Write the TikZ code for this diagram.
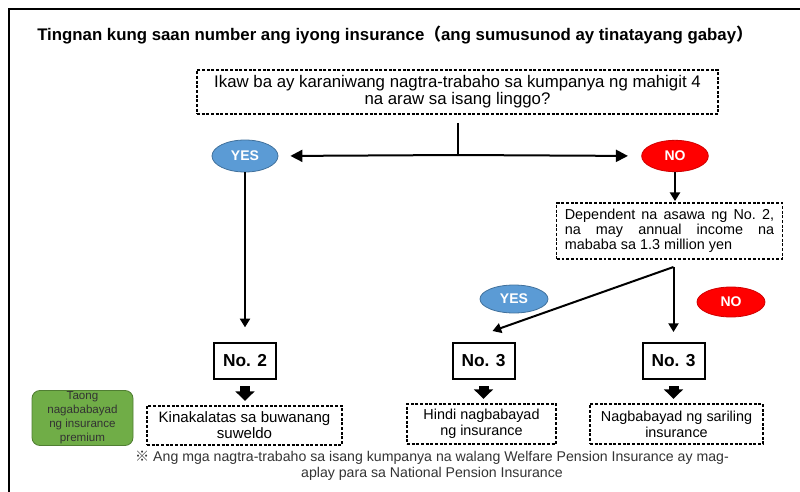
\documentclass[tikz,border=0pt]{standalone}
\usepackage{fontspec}
\setmainfont{Liberation Sans}
\newfontfamily\cjk{Noto Sans CJK SC}
\usetikzlibrary{shapes.geometric,arrows.meta}
\definecolor{yesblue}{HTML}{5B9BD5}
\definecolor{yesedge}{HTML}{41719C}
\definecolor{nored}{HTML}{FF0000}
\definecolor{noedge}{HTML}{D00000}
\definecolor{paygreen}{HTML}{70AD47}
\definecolor{payedge}{HTML}{507E32}
\definecolor{notegray}{HTML}{333333}
\begin{document}
\begin{tikzpicture}[x=0.75pt, y=-0.75pt,
            dashbox/.style={rectangle, draw, dashed, dash pattern=on 2.2pt off 1.3pt, line width=0.8pt, align=center, inner sep=2pt, font=\fontsize{10.8}{12}\selectfont},
            numbox/.style={rectangle, draw, line width=1.5pt, minimum width=46.5pt, minimum height=27pt, font=\fontsize{13}{15}\selectfont\bfseries},
            yes/.style={ellipse, fill=yesblue, draw=yesedge, line width=0.6pt, text=white, inner sep=0pt, font=\fontsize{10.5}{12}\selectfont\bfseries},
            no/.style={ellipse, fill=nored, draw=noedge, line width=0.6pt, text=white, inner sep=0pt, font=\fontsize{10.5}{12}\selectfont\bfseries},
            paybox/.style={rectangle, rounded corners=6pt, fill=paygreen, draw=payedge, line width=0.6pt, align=center, text=notegray, minimum width=75.75pt, minimum height=40.5pt, inner sep=1pt, font=\fontsize{8.7}{10.5}\selectfont},
            flow/.style={line width=1.5pt, -{Triangle[length=6.5pt, width=7.5pt]}},
            splitflow/.style={line width=1.5pt, -{Triangle[length=9pt, width=9pt]}},
            blockarrow/.style={line width=7.5pt, -{Triangle[length=7pt, width=14pt]}, shorten <=4.5pt, shorten >=3.5pt},
        ]
            \useasboundingbox (0,0) rectangle (800,492);
            \draw[line width=1.1pt] (9,492) -- (9,9) -- (800,9);

            \node[anchor=west, inner sep=0pt](titlenode) at (37,35) {\fontsize{12.6}{14}\selectfont\bfseries Tingnan kung saan number ang iyong insurance{\cjk （}ang sumusunod ay tinatayang gabay{\cjk ）}};

            \node[dashbox, minimum width=390.75pt, minimum height=33pt, font=\fontsize{12.6}{11.3}\selectfont](questionnode) at (457.5,92) {Ikaw ba ay karaniwang nagtra-trabaho sa kumpanya ng mahigit 4\\ na araw sa isang linggo?};
            \coordinate(stub) at (458,123);
            \coordinate(split) at (458,155);

            \node[yes, minimum width=49.5pt, minimum height=24pt](yesnode) at (245,156) {YES};
            \node[no, minimum width=50pt, minimum height=23.5pt](nonode) at (675,156) {NO};

            \node[dashbox, minimum width=169pt, minimum height=42pt, text width=157pt, align=justify, font=\fontsize{10.8}{11.3}\selectfont](spousenode) at (669.5,231) {Dependent na asawa ng No.~2,\linebreak na may annual income na\linebreak mababa sa 1.3 million yen};
            \coordinate(fork) at (673.5,267);

            \node[yes, minimum width=51pt, minimum height=21pt](yestwonode) at (514,299) {YES};
            \node[no, minimum width=51pt, minimum height=22.5pt](notwonode) at (731,302) {NO};

            \node[numbox](numtwonode) at (245,361) {No. 2};
            \node[numbox](numthreenode) at (483.5,361) {No. 3};
            \node[numbox](numthreebnode) at (673.5,361) {No. 3};

            \node[dashbox, minimum width=146.25pt, minimum height=29.25pt, font=\fontsize{11.3}{12}\selectfont](salarynode) at (244.5,425.5) {Kinakalatas sa buwanang\\ suweldo};
            \node[dashbox, minimum width=111.75pt, minimum height=30pt](nopaynode) at (481.5,424) {Hindi nagbabayad\\ ng insurance};
            \node[dashbox, minimum width=129.75pt, minimum height=30pt](selfpaynode) at (676.5,424) {Nagbabayad ng sariling\\ insurance};

            \node[paybox](payernode) at (82.5,418) {Taong\\ nagababayad\\ ng insurance\\ premium};

            \node[align=center, text=notegray, font=\fontsize{10.6}{12}\selectfont](notenode) at (432,466) {{\cjk ※} Ang mga nagtra-trabaho sa isang kumpanya na walang Welfare Pension Insurance ay mag-\\ aplay para sa National Pension Insurance};

            % yes / no split
            \draw[line width=1.5pt] (stub) -- (split);
            \draw[splitflow, shorten >=9pt] (split) -- (yesnode.east);
            \draw[splitflow, shorten >=10pt] (split) -- (nonode.west);
            \draw[flow, shorten >=11pt] (yesnode.south) -- (numtwonode.north);
            \draw[flow, shorten >=1pt] (nonode.south) -- (nonode.south |- spousenode.north);
            \draw[flow, shorten >=7.5pt] (fork) -- (numthreebnode.north);
            \draw[flow] (fork) -- ([shift={(9,-11)}]numthreenode.north);

            % block arrows
            \draw[blockarrow] (numtwonode.south) -- (numtwonode.south |- salarynode.north);
            \draw[blockarrow] (numthreenode.south) -- (numthreenode.south |- nopaynode.north);
            \draw[blockarrow] (numthreebnode.south) -- (numthreebnode.south |- selfpaynode.north);
        \end{tikzpicture}
\end{document}
